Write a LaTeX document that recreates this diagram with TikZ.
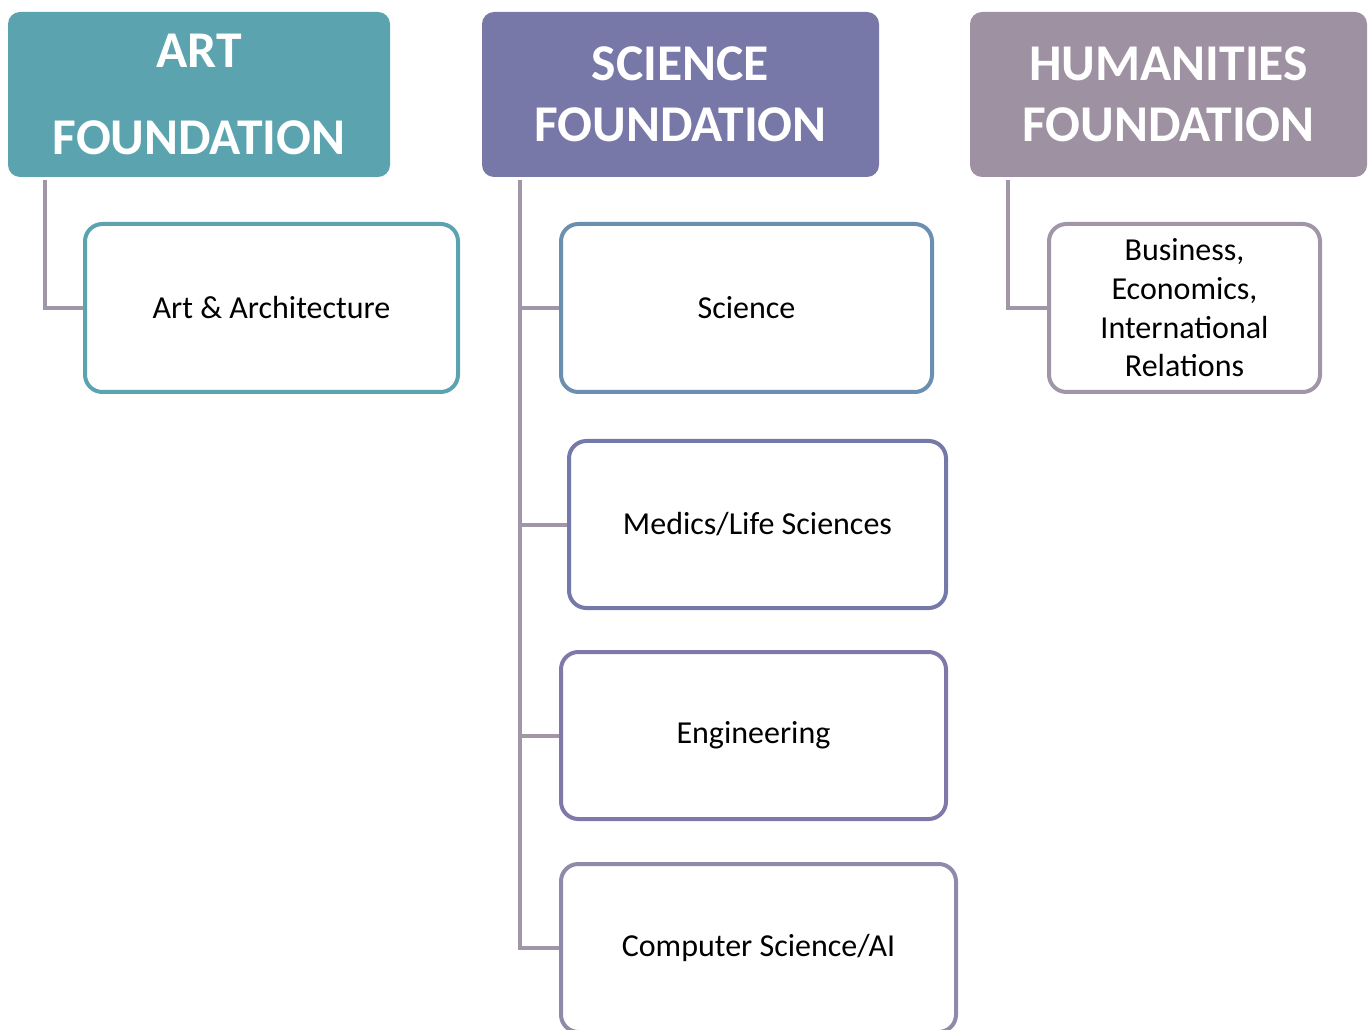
\documentclass[tikz,border=0pt]{standalone}
\usepackage{fontspec}
\setmainfont{Carlito}
\definecolor{artc}{RGB}{91,163,175}
\definecolor{scic}{RGB}{120,120,168}
\definecolor{humc}{RGB}{158,145,161}
\definecolor{connc}{RGB}{160,150,168}
\definecolor{b1}{RGB}{106,143,176}
\definecolor{b2}{RGB}{116,121,169}
\definecolor{b3}{RGB}{126,121,169}
\definecolor{b4}{RGB}{145,137,169}
\definecolor{b5}{RGB}{160,150,168}
\tikzset{
  headbox/.style={rectangle, rounded corners=9pt, draw=none, text=white, align=center,
    font=\fontsize{38.7pt}{45.75pt}\selectfont\bfseries, minimum height=123.75pt, inner sep=0pt},
  childbox/.style={rectangle, rounded corners=13pt, fill=white, line width=3pt, align=center,
    font=\fontsize{24pt}{29pt}\selectfont, minimum height=126pt, inner sep=0pt},
  conn/.style={draw=connc, line width=3pt, line join=miter}
}
\begin{document}
\begin{tikzpicture}[x=0.75pt,y=-0.75pt]
\useasboundingbox (0,0) rectangle (1371,1030);
% headers
\node[headbox, fill=artc, minimum width=286.5pt] (arth) at (199,94.5) {ART\\[19.5pt]FOUNDATION};
\node[headbox, fill=scic, minimum width=297.75pt] (sch) at (680.5,94.5) {SCIENCE\\FOUNDATION};
\node[headbox, fill=humc, minimum width=297.75pt] (humh) at (1168.5,94.5) {HUMANITIES\\FOUNDATION};
% children
\node[childbox, draw=artc, minimum width=279.75pt] (arch) at (271.5,308) {Art \& Architecture};
\node[childbox, draw=b1, minimum width=278.25pt] (sci) at (746.5,308) {Science};
\node[childbox, draw=b2, minimum width=282.75pt, minimum height=125.25pt] (med) at (757.5,524.5) {Medics/Life Sciences};
\node[childbox, draw=b3, minimum width=288.75pt, minimum height=125.25pt] (eng) at (753.5,735.5) {Engineering};
\node[childbox, draw=b4, minimum width=296.25pt] (cs) at (758.5,948) {Computer Science/AI};
\node[childbox, draw=b5, minimum width=203.25pt] (bus) at (1184.5,308) {Business,\\Economics,\\International\\Relations};
% connectors
\coordinate (atrunk) at ([xshift=27.75pt,yshift=-2.25pt]arth.south west);
\coordinate (strunk) at ([xshift=28.5pt,yshift=-2.25pt]sch.south west);
\coordinate (htrunk) at ([xshift=28.5pt,yshift=-2.25pt]humh.south west);
\draw[conn] (atrunk) |- (arch.west);
\draw[conn] (strunk) |- (cs.west);
\draw[conn] (sci.west) -- (sci.west -| strunk);
\draw[conn] (med.west) -- (med.west -| strunk);
\draw[conn] (eng.west) -- (eng.west -| strunk);
\draw[conn] (htrunk) |- (bus.west);
\end{tikzpicture}
\end{document}
